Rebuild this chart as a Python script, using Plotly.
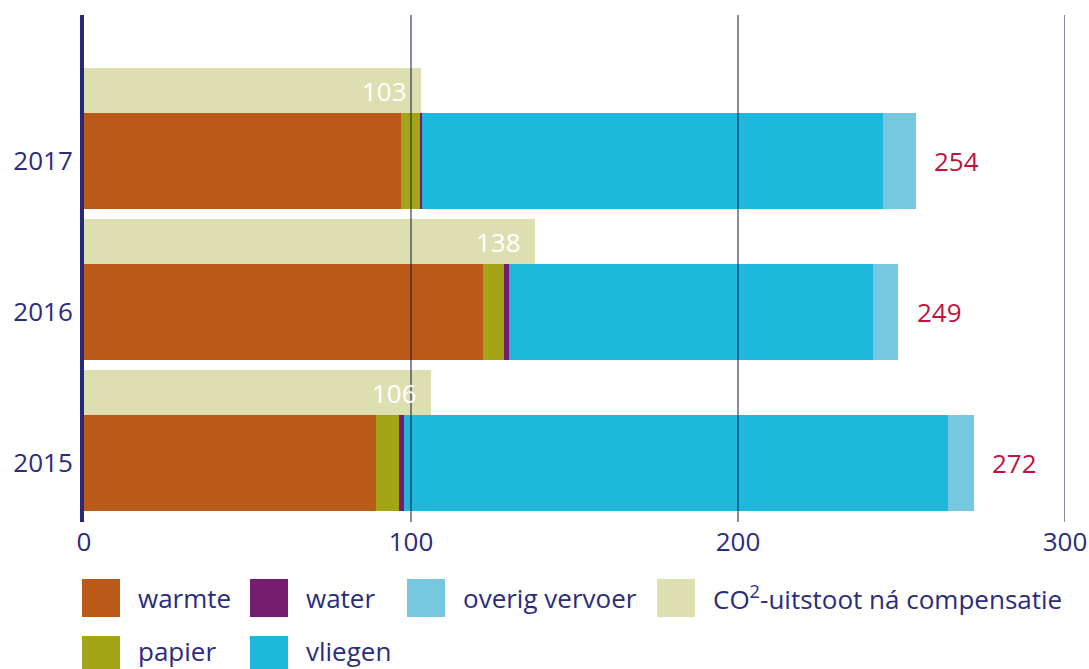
import plotly.graph_objects as go

# ---- data ----
years = ["2015", "2016", "2017"]
warmte = [89.3, 122.0, 96.9]
papier = [7.0, 6.4, 5.8]
water = [1.6, 1.5, 0.7]
vliegen = [166.4, 111.5, 141.0]
overig_vervoer = [7.9, 7.6, 10.0]
na_compensatie = [106, 138, 103]
totals = [272, 249, 254]
x_ticks = [0, 100, 200, 300]

series_names = ["warmte", "papier", "water", "vliegen", "overig vervoer"]
series_values = [warmte, papier, water, vliegen, overig_vervoer]
series_colors = ["#bb5918", "#a3a516", "#761d72", "#1db8db", "#76c8e0"]
comp_name = "CO<sup>2</sup>-uitstoot ná compensatie"
comp_color = "#dddfb1"

NAVY = "#2b2c7c"
FONT = "Open Sans"
FS = 26

W, H = 1089, 669
ML, MR, MT, MB = 84, 24, 15, 147
PW, PH = W - ML - MR, H - MT - MB

ypos = list(range(len(years)))
comp_offset = 0.465
ypos_comp = [p + comp_offset for p in ypos]

fig = go.Figure()
for name, vals, col in zip(series_names, series_values, series_colors):
    fig.add_trace(go.Bar(
        x=vals, y=ypos, orientation="h", name=name,
        marker=dict(color=col, line=dict(width=0)),
        width=0.635, showlegend=False, hoverinfo="x+name"))

fig.add_trace(go.Bar(
    x=na_compensatie, y=ypos_comp, orientation="h", name="CO2-uitstoot ná compensatie",
    marker=dict(color=comp_color, line=dict(width=0)),
    width=0.298, showlegend=False, hoverinfo="x+name"))

annotations = []
for yp, v in zip(ypos_comp, na_compensatie):
    annotations.append(dict(x=v, y=yp, xref="x", yref="y", text=str(v),
                            showarrow=False, xanchor="right", xshift=-12,
                            font=dict(family=FONT, size=FS, color="white")))
for yp, t in zip(ypos, totals):
    annotations.append(dict(x=t, y=yp, xref="x", yref="y", text=str(t),
                            showarrow=False, xanchor="left", xshift=17,
                            font=dict(family=FONT, size=FS, color="#c0133d")))

shapes = []
for t in x_ticks[1:]:
    shapes.append(dict(type="line", xref="x", yref="paper", x0=t, x1=t, y0=0, y1=1,
                       line=dict(color="#16163a", width=1), layer="above"))

# ---- manual legend (large square swatches, column layout) ----
legend_items = [
    ("warmte", series_colors[0], 0, 0),
    ("water", series_colors[2], 1, 0),
    ("overig vervoer", series_colors[4], 2, 0),
    (comp_name, comp_color, 3, 0),
    ("papier", series_colors[1], 0, 1),
    ("vliegen", series_colors[3], 1, 1),
]
col_px = [82, 250, 407, 657]
row_px = [579, 636]
text_dy = [0, -4]
SW = 38


def px_x(px):
    return (px - ML) / PW


def px_y(py):
    return (H - MB - py) / PH


for label, col, c, r in legend_items:
    x0 = col_px[c]
    y0 = row_px[r]
    shapes.append(dict(type="rect", xref="paper", yref="paper",
                       x0=px_x(x0), x1=px_x(x0 + SW), y0=px_y(y0 + SW), y1=px_y(y0),
                       fillcolor=col, line=dict(width=0), layer="above"))
    annotations.append(dict(x=px_x(x0 + SW + 17), y=px_y(y0 + SW / 2 + text_dy[r]),
                            xref="paper", yref="paper", text=label, showarrow=False,
                            xanchor="left", yanchor="middle", borderpad=0,
                            font=dict(family=FONT, size=FS, color=NAVY)))

fig.update_layout(
    width=W, height=H,
    margin=dict(l=ML, r=MR, t=MT, b=MB, autoexpand=False),
    paper_bgcolor="white", plot_bgcolor="white",
    barmode="stack", bargap=0,
    showlegend=False,
    font=dict(family=FONT, size=FS, color=NAVY),
    xaxis=dict(range=[0, 300], tickvals=x_ticks, showgrid=False, zeroline=False,
               showline=False, ticks="", ticklabelstandoff=2,
               tickfont=dict(family=FONT, size=FS, color=NAVY), fixedrange=True),
    yaxis=dict(range=[-0.391, 2.967], tickvals=ypos, ticktext=years,
               showgrid=False, zeroline=False, showline=True, linewidth=4,
               linecolor="#27287a", ticks="", ticklabelstandoff=2,
               tickfont=dict(family=FONT, size=FS, color=NAVY), fixedrange=True),
    shapes=shapes, annotations=annotations,
)

fig.write_html("out.html", config={"displayModeBar": False},
               post_script="document.body.style.margin='0';document.body.style.overflow='hidden';")
